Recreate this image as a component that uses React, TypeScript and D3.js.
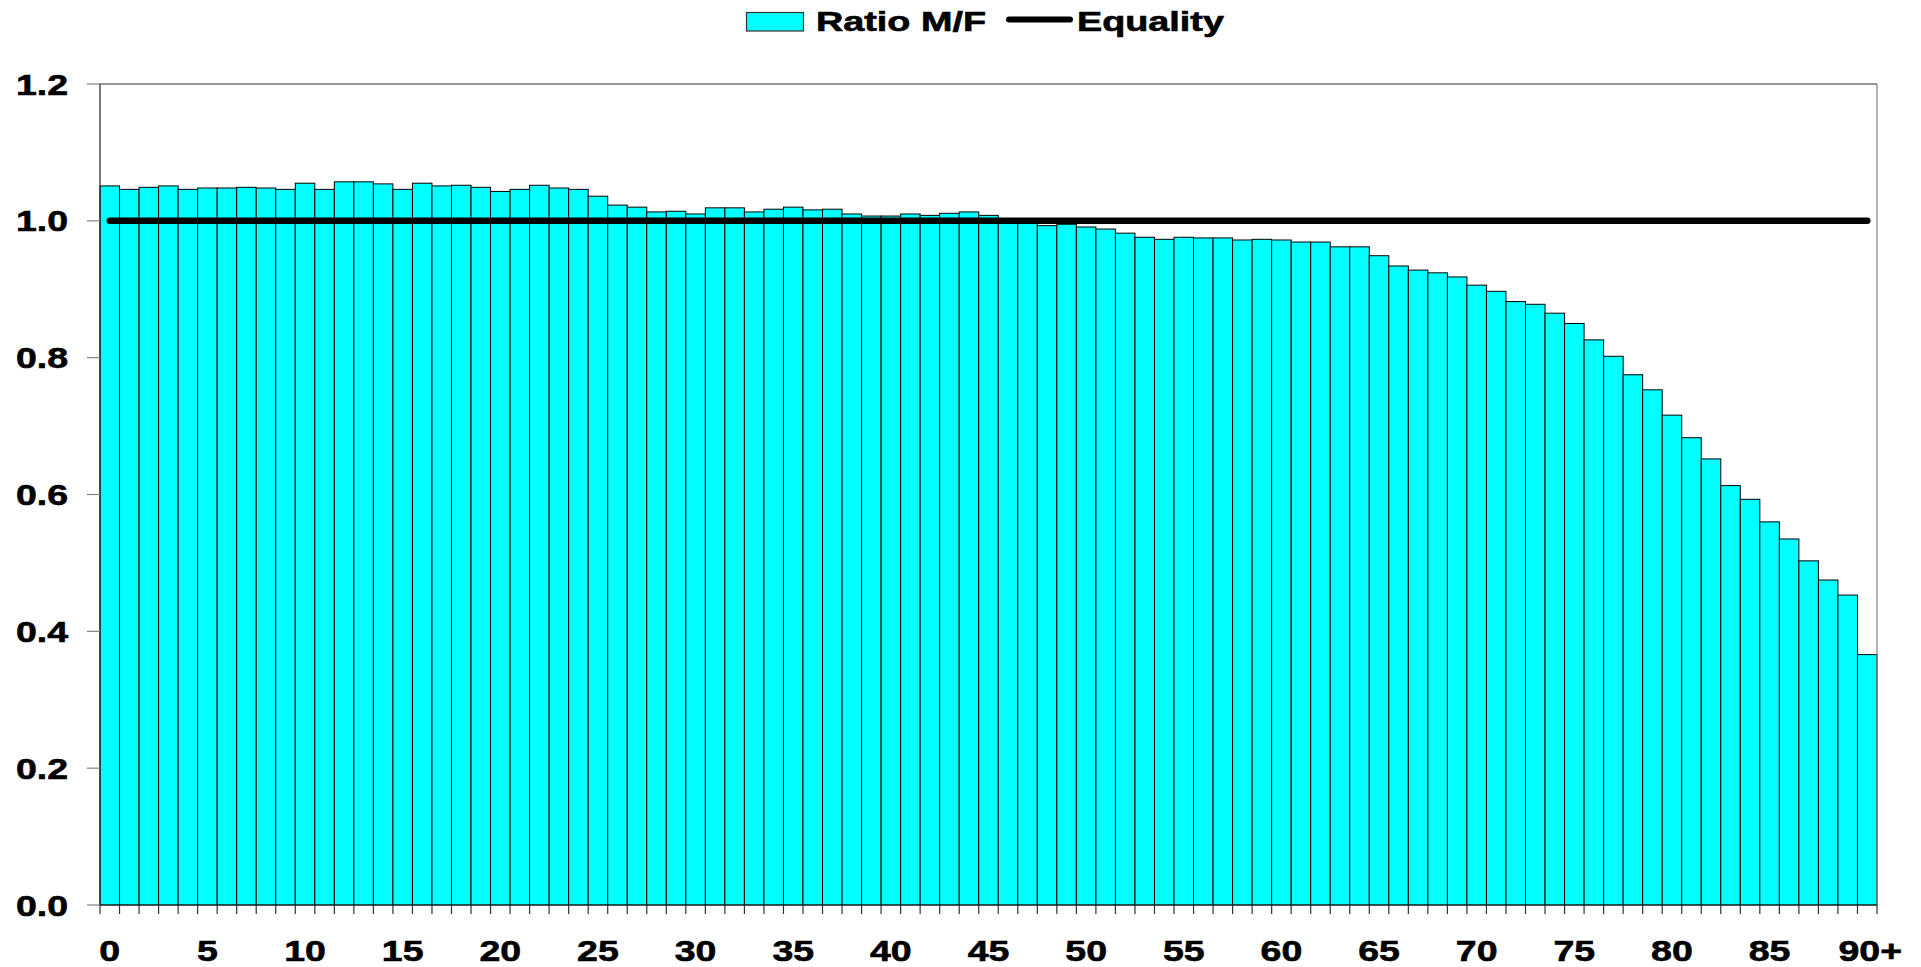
import React from 'react';
import * as d3 from 'd3';

// Male / female ratio by single year of age
const ages: string[] = d3.range(0, 91).map(a => (a === 90 ? '90+' : String(a)));

const ratioMF: number[] = [
  1.051, 1.046, 1.049, 1.051, 1.046, 1.048, 1.048, 1.049, 1.048, 1.046,
  1.055, 1.046, 1.057, 1.057, 1.054, 1.046, 1.055, 1.051, 1.052, 1.049,
  1.043, 1.046, 1.052, 1.048, 1.046, 1.036, 1.023, 1.020, 1.013, 1.014,
  1.010, 1.019, 1.019, 1.013, 1.017, 1.020, 1.016, 1.017, 1.010, 1.007,
  1.007, 1.010, 1.008, 1.011, 1.013, 1.008, 1.001, 0.998, 0.993, 0.995,
  0.991, 0.988, 0.982, 0.976, 0.973, 0.976, 0.975, 0.975, 0.972, 0.973,
  0.972, 0.969, 0.969, 0.962, 0.962, 0.949, 0.934, 0.928, 0.924, 0.918,
  0.906, 0.897, 0.882, 0.878, 0.865, 0.850, 0.826, 0.802, 0.775, 0.753,
  0.716, 0.683, 0.652, 0.613, 0.593, 0.560, 0.535, 0.503, 0.475, 0.453,
  0.366,
];

const equality = 1.0;
const yTicks: number[] = [0, 0.2, 0.4, 0.6, 0.8, 1.0, 1.2];
const xLabelEvery = 5;

const W = 1921;
const H = 967;
const PLOT = { left: 100, right: 1877, top: 84, bottom: 905 };
const FONT = '"Liberation Sans", Arial, sans-serif';
const CYAN = '#00ffff';

// the reference text is stretched horizontally and a touch heavier than plain bold
const TICK_FS = 30;
const TICK_SX = 1.25;
const LEG_FS = 27;
const LEG_SX = 1.4;
const TEXT_STROKE = 0.6;

export default function App() {
  const x = d3.scaleBand<string>().domain(ages).range([PLOT.left, PLOT.right]).padding(0);
  const y = d3.scaleLinear().domain([0, 1.2]).range([PLOT.bottom, PLOT.top]);
  const fmt = d3.format('.1f');
  const bw = x.bandwidth();

  const lineGen = d3
    .line<string>()
    .x(a => (x(a) ?? 0) + bw / 2)
    .y(() => y(equality));

  // tick positions sit on the bar boundaries
  const boundaries = ages.map(a => x(a) ?? 0).concat([PLOT.right]);

  const textProps = {
    fontFamily: FONT,
    fontWeight: 'bold' as const,
    fill: '#000',
    stroke: '#000',
    strokeWidth: TEXT_STROKE,
  };

  return (
    <div style={{ position: 'absolute', left: 0, top: 0 }}>
      <svg width={W} height={H} style={{ display: 'block', background: '#fff' }}>
        {/* ── Bars ─────────────────────────────────────────── */}
        <g>
          {ratioMF.map((v, i) => (
            <rect
              key={ages[i]}
              x={x(ages[i])}
              y={y(v)}
              width={bw}
              height={y(0) - y(v)}
              fill={CYAN}
              stroke="#000"
              strokeWidth={1}
            />
          ))}
        </g>

        {/* ── Frame ────────────────────────────────────────── */}
        <line x1={PLOT.left} x2={PLOT.right} y1={PLOT.top} y2={PLOT.top} stroke="#333" strokeWidth={1.2} />
        <line x1={PLOT.right} x2={PLOT.right} y1={PLOT.top} y2={PLOT.bottom} stroke="#808080" strokeWidth={1.2} />
        <line x1={PLOT.left} x2={PLOT.left} y1={PLOT.top} y2={PLOT.bottom} stroke="#222" strokeWidth={1.2} />
        <line x1={PLOT.left} x2={PLOT.right} y1={PLOT.bottom} y2={PLOT.bottom} stroke="#222" strokeWidth={1.2} />

        {/* ── Equality line ────────────────────────────────── */}
        <path
          d={lineGen(ages) ?? ''}
          fill="none"
          stroke="#000"
          strokeWidth={6.5}
          strokeLinecap="round"
        />

        {/* ── Y axis ───────────────────────────────────────── */}
        <g>
          {yTicks.map(t => (
            <g key={t}>
              <line x1={PLOT.left - 13} x2={PLOT.left} y1={y(t)} y2={y(t)} stroke="#808080" strokeWidth={1.2} />
              <text
                transform={`translate(68,${y(t) + 10.5}) scale(${TICK_SX},1)`}
                textAnchor="end"
                fontSize={TICK_FS}
                {...textProps}
              >
                {fmt(t)}
              </text>
            </g>
          ))}
        </g>

        {/* ── X axis ───────────────────────────────────────── */}
        <g>
          {boundaries.map((bx, i) => (
            <line key={i} x1={bx} x2={bx} y1={PLOT.bottom} y2={PLOT.bottom + 9} stroke="#333" strokeWidth={1.2} />
          ))}
          {ages
            .filter((_, i) => i % xLabelEvery === 0)
            .map(a => (
              <text
                key={a}
                transform={`translate(${(x(a) ?? 0) + bw / 2 + (a === '90+' ? 3 : 0)},961) scale(${TICK_SX},1)`}
                textAnchor="middle"
                fontSize={TICK_FS}
                {...textProps}
              >
                {a}
              </text>
            ))}
        </g>

        {/* ── Legend ───────────────────────────────────────── */}
        <g>
          <rect x={746.5} y={12.5} width={57} height={18.5} fill={CYAN} stroke="#333" strokeWidth={1.2} />
          <text transform={`translate(816,31) scale(${LEG_SX},1)`} fontSize={LEG_FS} {...textProps}>
            Ratio M/F
          </text>
          <line x1={1009} x2={1070} y1={19.5} y2={19.5} stroke="#000" strokeWidth={6} strokeLinecap="round" />
          <text transform={`translate(1077,31) scale(${LEG_SX},1)`} fontSize={LEG_FS} {...textProps}>
            Equality
          </text>
        </g>
      </svg>
    </div>
  );
}
